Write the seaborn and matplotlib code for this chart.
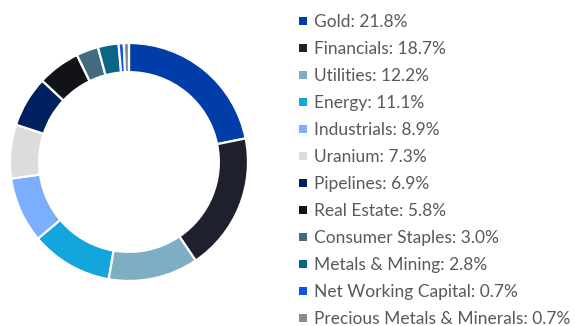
import matplotlib
matplotlib.use("Agg")
import matplotlib.pyplot as plt
import seaborn as sns

sns.set_theme(style="white")
plt.rcParams["font.family"] = ["Lato", "DejaVu Sans"]

sectors = ["Gold", "Financials", "Utilities", "Energy", "Industrials", "Uranium",
           "Pipelines", "Real Estate", "Consumer Staples", "Metals & Mining",
           "Net Working Capital", "Precious Metals & Minerals"]
weights = [21.8, 18.7, 12.2, 11.1, 8.9, 7.3, 6.9, 5.8, 3.0, 2.8, 0.7, 0.7]
colors = ["#003DA8", "#1E212D", "#7DAEC4", "#12A6DC", "#7BAEFC", "#DCDCDC",
          "#00215F", "#111316", "#426B80", "#0A6586", "#0A55E8", "#8A8A8A"]

W, H = 575, 326
fig = plt.figure(figsize=(W / 100, H / 100), dpi=100)
fig.patch.set_facecolor("white")

# donut
ax = fig.add_axes([10 / W, (H - 281) / H, 238 / W, 238 / H])
ax.pie(weights, colors=colors, startangle=90, counterclock=False, radius=1.0,
       wedgeprops=dict(width=0.245, edgecolor="white", linewidth=1.6))
ax.set_xlim(-1, 1)
ax.set_ylim(-1, 1)
ax.set_aspect("equal")
ax.axis("off")

# legend column
row_gap = 27.0
for i, (name, val, col) in enumerate(zip(sectors, weights, colors)):
    base = 27 + i * row_gap
    fig.patches.append(plt.Rectangle((299 / W, 1 - (base - 2) / H), 8 / W, 8 / H,
                                     transform=fig.transFigure, facecolor=col,
                                     edgecolor="none"))
    fig.text(314 / W, 1 - base / H, f"{name}: {val:.1f}%", fontsize=12.5,
             color="#595959", va="baseline", ha="left")

fig.savefig("out.png", dpi=100, facecolor="white")
